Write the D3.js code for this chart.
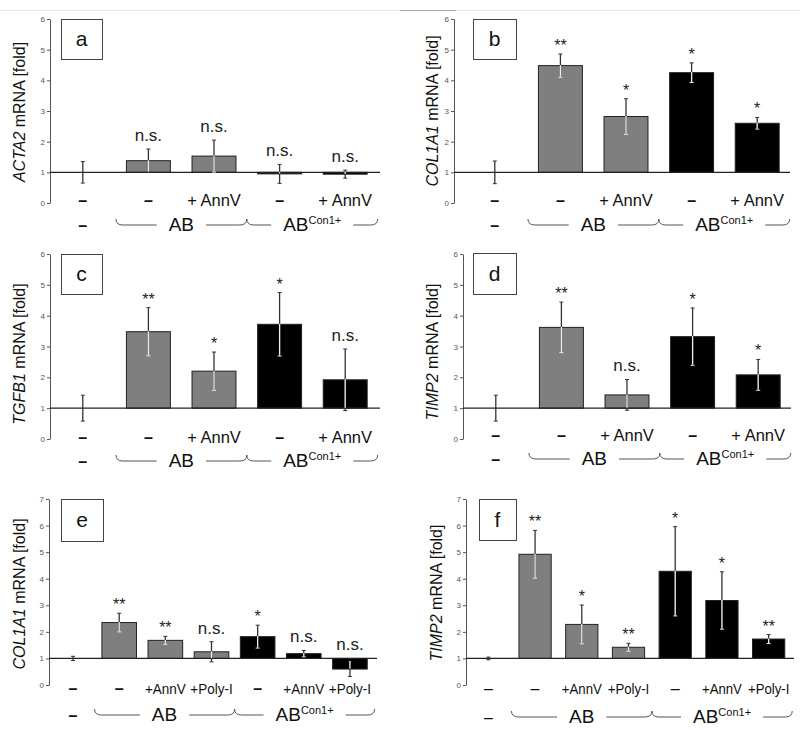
<!DOCTYPE html>
<html><head><meta charset="utf-8">
<script src="https://cdn.jsdelivr.net/npm/d3@7"></script>
<style>
body{margin:0;background:#fff}
svg{display:block}
text{font-family:"Liberation Sans",Arial,sans-serif}
</style>
</head><body>
<svg id="chart" width="800" height="730"></svg>
<script>
// ---------- data ----------
const catsAnnV = ["–", "–", "+ AnnV", "–", "+ AnnV"];
const catsPoly = ["–", "–", "+AnnV", "+Poly-I", "–", "+AnnV", "+Poly-I"];
const groupsAnnV = ["ctrl", "AB", "AB", "Con", "Con"];
const groupsPoly = ["ctrl", "AB", "AB", "AB", "Con", "Con", "Con"];
const yTicks6 = [0, 1, 2, 3, 4, 5, 6];
const yTicks7 = [0, 1, 2, 3, 4, 5, 6, 7];

const aValues = [1, 1.38, 1.53, 0.95, 0.94];
const aErrors = [0.35, 0.38, 0.52, 0.31, 0.13];
const aSig = ["", "n.s.", "n.s.", "n.s.", "n.s."];

const bValues = [1, 4.48, 2.82, 4.25, 2.60];
const bErrors = [0.37, 0.38, 0.58, 0.32, 0.19];
const bSig = ["", "**", "*", "*", "*"];

const cValues = [1, 3.48, 2.20, 3.72, 1.92];
const cErrors = [0.42, 0.78, 0.62, 1.03, 1.00];
const cSig = ["", "**", "*", "*", "n.s."];

const dValues = [1, 3.62, 1.43, 3.32, 2.08];
const dErrors = [0.42, 0.82, 0.50, 0.93, 0.50];
const dSig = ["", "**", "n.s.", "*", "*"];

const eValues = [1, 2.35, 1.68, 1.25, 1.82, 1.18, 0.60];
const eErrors = [0.08, 0.35, 0.15, 0.38, 0.43, 0.12, 0.28];
const eSig = ["", "**", "**", "n.s.", "*", "n.s.", "n.s."];

const fValues = [1, 4.92, 2.28, 1.42, 4.28, 3.18, 1.73];
const fErrors = [0.05, 0.90, 0.73, 0.15, 1.68, 1.08, 0.17];
const fSig = ["", "**", "*", "**", "*", "*", "**"];

const geneNames = ["ACTA2", "COL1A1", "TGFB1", "TIMP2", "COL1A1", "TIMP2"];
const panelLetters = ["a", "b", "c", "d", "e", "f"];
const groupLabelAB = "AB";
const groupLabelCon = "Con1+";

// ---------- layout ----------
const panels = [
  {letter: panelLetters[0], gene: geneNames[0], values: aValues, errors: aErrors, sig: aSig, cats: catsAnnV, groups: groupsAnnV, ticks: yTicks6,
   axisX: 50, x0: 50, x1: 378, lineEnd: 380, yTop: 19, yBot: 203, pad: 0.33, row1: 206, row2: 231, labX: 25, labY: 112, box: [61, 19, 41, 40], boldDash: true, catFont: 16.5, catScale: 1},
  {letter: panelLetters[1], gene: geneNames[1], values: bValues, errors: bErrors, sig: bSig, cats: catsAnnV, groups: groupsAnnV, ticks: yTicks6,
   axisX: 454, x0: 462, x1: 790, lineEnd: 790, yTop: 19, yBot: 203, pad: 0.33, row1: 206, row2: 231, labX: 438, labY: 111, box: [473, 19, 43, 40], boldDash: true, catFont: 16.5, catScale: 1},
  {letter: panelLetters[2], gene: geneNames[2], values: cValues, errors: cErrors, sig: cSig, cats: catsAnnV, groups: groupsAnnV, ticks: yTicks6,
   axisX: 50, x0: 50, x1: 378, lineEnd: 380, yTop: 254, yBot: 439, pad: 0.33, row1: 443, row2: 467, labX: 25, labY: 354, box: [61, 254, 41, 40], boldDash: true, catFont: 16.5, catScale: 1},
  {letter: panelLetters[3], gene: geneNames[3], values: dValues, errors: dErrors, sig: dSig, cats: catsAnnV, groups: groupsAnnV, ticks: yTicks6,
   axisX: 463, x0: 463, x1: 791, lineEnd: 791, yTop: 254, yBot: 439, pad: 0.33, row1: 441, row2: 465, labX: 438, labY: 352, box: [473, 253, 43, 41], boldDash: true, catFont: 16.5, catScale: 1},
  {letter: panelLetters[4], gene: geneNames[4], values: eValues, errors: eErrors, sig: eSig, cats: catsPoly, groups: groupsPoly, ticks: yTicks7,
   axisX: 49, x0: 50, x1: 373, lineEnd: 377, yTop: 499, yBot: 685, pad: 0.25, row1: 694, row2: 721, labX: 25, labY: 594, box: [61, 499, 42, 42], boldDash: true, catFont: 15, catScale: 0.9},
  {letter: panelLetters[5], gene: geneNames[5], values: fValues, errors: fErrors, sig: fSig, cats: catsPoly, groups: groupsPoly, ticks: yTicks7,
   axisX: 466, x0: 465, x1: 792, lineEnd: 794, yTop: 499, yBot: 685, pad: 0.31, row1: 694, row2: 723, labX: 442, labY: 593, box: [479, 499, 37, 41], boldDash: false, catFont: 15, catScale: 0.88}
];

const svg = d3.select("#chart");
svg.append("rect").attr("width", 800).attr("height", 730).attr("fill", "#fff");
svg.append("line").attr("x1", 0).attr("x2", 800).attr("y1", 10.5).attr("y2", 10.5).attr("stroke", "#e4e4e4");
svg.append("line").attr("x1", 400).attr("x2", 456).attr("y1", 10.5).attr("y2", 10.5).attr("stroke", "#aaa");

const fill = {AB: "#7f7f7f", Con: "#000"};

function drawPanel(p) {
  const g = svg.append("g");
  const n = p.values.length;
  const y = d3.scaleLinear().domain([0, d3.max(p.ticks)]).range([p.yBot, p.yTop]);
  const x = d3.scaleBand().domain(d3.range(n)).range([p.x0, p.x1]).paddingInner(p.pad).paddingOuter(p.pad / 2);
  const bw = x.bandwidth();
  const cx = i => x(i) + bw / 2;

  // axis
  const axis = d3.axisLeft(y).tickValues(p.ticks).tickSize(3).tickSizeOuter(0).tickPadding(2).tickFormat(d3.format("d"));
  const ag = g.append("g").attr("transform", `translate(${p.axisX},0)`).call(axis);
  ag.select(".domain").attr("stroke", "#555");
  ag.selectAll(".tick line").attr("stroke", "#555");
  ag.selectAll(".tick text").attr("font-size", 8).attr("fill", "#555").attr("font-family", "Liberation Sans, Arial, sans-serif");

  // y label
  const lab = g.append("text").attr("transform", `translate(${p.labX},${p.labY}) rotate(-90)`)
    .attr("text-anchor", "middle").attr("font-size", 16).attr("fill", "#111");
  lab.append("tspan").attr("font-style", "italic").text(p.gene);
  lab.append("tspan").text(" mRNA [fold]");

  // panel letter box
  g.append("rect").attr("x", p.box[0] + 0.5).attr("y", p.box[1] + 0.5).attr("width", p.box[2]).attr("height", p.box[3])
    .attr("fill", "#fff").attr("stroke", "#444");
  g.append("text").attr("x", p.box[0] + p.box[2] / 2).attr("y", p.box[1] + p.box[3] / 2 + 7)
    .attr("text-anchor", "middle").attr("font-size", 21).attr("fill", "#111").text(p.letter);

  // bars
  const idx = d3.range(n);
  g.selectAll("rect.bar").data(idx.filter(i => p.groups[i] !== "ctrl")).join("rect")
    .attr("class", "bar")
    .attr("x", i => x(i)).attr("width", bw)
    .attr("y", i => Math.min(y(p.values[i]), y(1)))
    .attr("height", i => Math.abs(y(p.values[i]) - y(1)))
    .attr("fill", i => fill[p.groups[i]])
    .attr("stroke", "#222").attr("stroke-width", 1);

  // baseline at 1
  g.append("line").attr("x1", p.axisX).attr("x2", p.lineEnd).attr("y1", y(1)).attr("y2", y(1))
    .attr("stroke", "#222").attr("stroke-width", 1.2);

  // error bars
  idx.forEach(i => {
    const v = p.values[i], e = p.errors[i], c = cx(i);
    const lo = v - e, hi = v + e;
    g.append("line").attr("x1", c).attr("x2", c).attr("y1", y(hi)).attr("y2", y(lo)).attr("stroke", "#333").attr("stroke-width", 1.3);
    g.append("line").attr("x1", c - 2).attr("x2", c + 2).attr("y1", y(hi)).attr("y2", y(hi)).attr("stroke", "#333");
    let lowCap = "#333";
    if (p.groups[i] !== "ctrl") {
      const bMin = Math.min(1, v), bMax = Math.max(1, v);
      const s0 = Math.max(lo, bMin), s1 = Math.min(hi, bMax);
      if (s1 > s0) {
        g.append("line").attr("x1", c).attr("x2", c).attr("y1", y(s1) - 0.5).attr("y2", y(s0) - 0.5)
          .attr("stroke", "#eee").attr("stroke-width", 1.3);
      }
      if (lo >= bMin && lo <= bMax) lowCap = "#eee";
    }
    g.append("line").attr("x1", c - 2).attr("x2", c + 2).attr("y1", y(lo)).attr("y2", y(lo)).attr("stroke", lowCap);
  });

  // significance labels
  idx.forEach(i => {
    const s = p.sig[i];
    if (!s) return;
    const top = y(Math.max(p.values[i] + p.errors[i], 1));
    const isNs = s === "n.s.";
    g.append("text").attr("x", cx(i)).attr("y", isNs ? top - 8 : top - 3)
      .attr("text-anchor", "middle").attr("font-size", isNs ? 17 : 16).attr("fill", "#222").text(s);
  });

  // category row 1
  idx.forEach(i => {
    const t = p.cats[i];
    const dash = t === "–";
    g.append("text").attr("transform", `translate(${cx(i)},${p.row1}) scale(${dash ? 1 : p.catScale},1)`)
      .attr("text-anchor", "middle")
      .attr("font-size", dash ? 16 : p.catFont).attr("fill", "#111")
      .attr("font-weight", dash && p.boldDash ? "bold" : "normal").text(t);
  });

  // row 2: ctrl dash
  g.append("text").attr("x", cx(0)).attr("y", p.row2).attr("text-anchor", "middle")
    .attr("font-size", 16).attr("fill", "#111").attr("font-weight", p.boldDash ? "bold" : "normal").text("–");

  // braces with group labels
  const abIdx = idx.filter(i => p.groups[i] === "AB");
  const conIdx = idx.filter(i => p.groups[i] === "Con");
  const step = x.step();
  const left = x(abIdx[0]) - step * 0.16;
  const mid = (x(abIdx[abIdx.length - 1]) + bw + x(conIdx[0])) / 2;
  const right = x(conIdx[conIdx.length - 1]) + bw + step * 0.16;
  const by = p.row2 - 6;

  const t1 = g.append("text").attr("x", (left + mid) / 2).attr("y", p.row2).attr("text-anchor", "middle")
    .attr("font-size", 19).attr("fill", "#111").text(groupLabelAB);
  const t2 = g.append("text").attr("x", (mid + right) / 2).attr("y", p.row2).attr("text-anchor", "middle")
    .attr("font-size", 19).attr("fill", "#111");
  t2.append("tspan").text(groupLabelAB);
  t2.append("tspan").attr("font-size", 11).attr("dy", -7).text(groupLabelCon);

  function brace(a, b, t) {
    const bb = t.node().getBBox();
    const gap = 12, r = 7;
    const path = `M${a},${by - 6} Q${a},${by} ${a + r},${by} L${bb.x - gap},${by} ` +
                 `M${bb.x + bb.width + gap},${by} L${b - r},${by} Q${b},${by} ${b},${by - 6}`;
    g.append("path").attr("d", path).attr("fill", "none").attr("stroke", "#555").attr("stroke-width", 1);
  }
  brace(left, mid, t1);
  brace(mid, right, t2);
}

panels.forEach(drawPanel);
</script>
</body></html>
